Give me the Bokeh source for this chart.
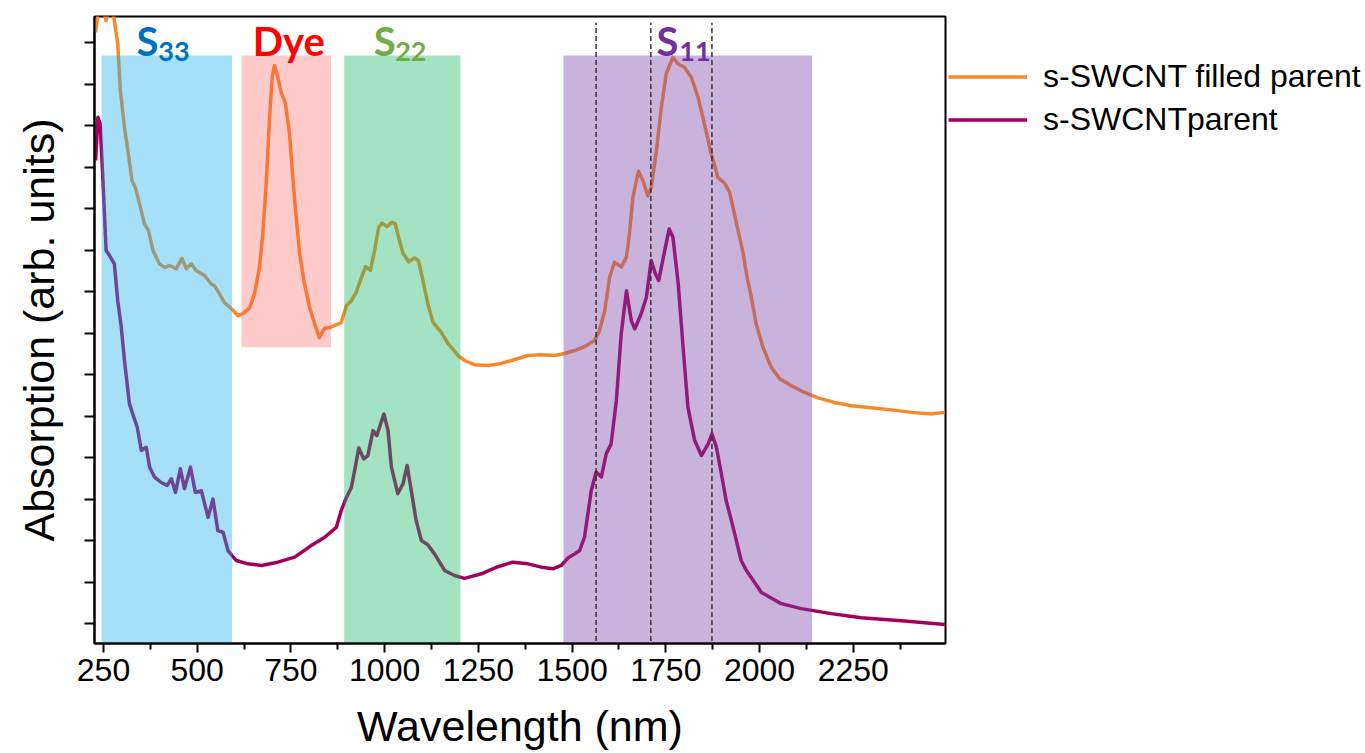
from bokeh.plotting import figure
from bokeh.models import FixedTicker, Legend, LegendItem, Range1d
from bokeh.embed import file_html
from bokeh.resources import INLINE
from bokeh.core.properties import value

# ---- data (wavelength in nm, absorption in arb. units) ----
filled_nm = [229, 239, 257, 270, 279, 288, 295, 306, 315, 326,
             335, 346, 359, 370, 382, 399, 413, 426, 444, 459,
             471, 484, 497, 519, 537, 546, 559, 573, 591, 609,
             622, 640, 653, 666, 675, 684, 693, 700, 706, 715,
             724, 735, 746, 760, 773, 786, 800, 813, 826, 840,
             853, 866, 884, 898, 911, 924, 938, 949, 962, 973,
             984, 993, 1006, 1019, 1028, 1037, 1049, 1064, 1080, 1090,
             1102, 1115, 1129, 1151, 1169, 1196, 1213, 1240, 1276, 1311,
             1338, 1382, 1418, 1453, 1480, 1507, 1538, 1560, 1573, 1587,
             1600, 1613, 1631, 1645, 1653, 1662, 1677, 1689, 1702, 1711,
             1725, 1738, 1751, 1769, 1782, 1800, 1818, 1836, 1853, 1871,
             1889, 1907, 1920, 1938, 1956, 1965, 1978, 1991, 2009, 2031,
             2054, 2085, 2120, 2156, 2200, 2245, 2298, 2351, 2405, 2458, 2494]
filled_abs = [1.525, 1.60, 1.553, 1.60, 1.553, 1.498, 1.384, 1.295, 1.240, 1.167,
              1.151, 1.112, 1.064, 1.047, 0.999, 0.967, 0.958, 0.963, 0.955, 0.980,
              0.955, 0.967, 0.951, 0.939, 0.919, 0.914, 0.895, 0.873, 0.859, 0.842,
              0.847, 0.861, 0.895, 0.958, 1.040, 1.160, 1.319, 1.416, 1.445, 1.416,
              1.380, 1.355, 1.281, 1.119, 0.992, 0.919, 0.861, 0.823, 0.789, 0.812,
              0.813, 0.818, 0.825, 0.866, 0.878, 0.898, 0.934, 0.960, 0.951, 0.999,
              1.055, 1.065, 1.057, 1.067, 1.064, 1.031, 0.992, 0.972, 0.981, 0.975,
              0.927, 0.871, 0.826, 0.802, 0.775, 0.746, 0.734, 0.724, 0.722, 0.727,
              0.734, 0.746, 0.748, 0.746, 0.751, 0.758, 0.770, 0.782, 0.806, 0.854,
              0.934, 0.971, 0.959, 0.983, 1.040, 1.127, 1.190, 1.167, 1.131, 1.151,
              1.240, 1.344, 1.425, 1.465, 1.449, 1.440, 1.416, 1.368, 1.304, 1.232,
              1.175, 1.161, 1.140, 1.066, 0.994, 0.943, 0.886, 0.822, 0.766, 0.718,
              0.690, 0.673, 0.657, 0.644, 0.633, 0.625, 0.620, 0.615, 0.609, 0.605, 0.609]

parent_nm = [229, 235, 241, 246, 251, 257, 266, 279, 288, 297,
             306, 319, 331, 340, 351, 364, 373, 386, 404, 420,
             431, 442, 455, 466, 482, 495, 511, 529, 542, 555,
             569, 582, 604, 635, 671, 715, 760, 804, 840, 871,
             884, 898, 911, 920, 931, 944, 955, 969, 979, 998,
             1009, 1018, 1035, 1049, 1060, 1071, 1084, 1098, 1115, 1133,
             1160, 1186, 1213, 1258, 1302, 1342, 1382, 1418, 1449, 1471,
             1489, 1507, 1520, 1533, 1542, 1551, 1564, 1578, 1591, 1604,
             1618, 1631, 1645, 1658, 1667, 1684, 1698, 1711, 1722, 1731,
             1747, 1759, 1769, 1783, 1796, 1809, 1827, 1845, 1863, 1873,
             1885, 1903, 1911, 1925, 1951, 1965, 2005, 2058, 2111, 2191,
             2271, 2378, 2495]
parent_abs = [1.216, 1.320, 1.305, 1.216, 1.119, 0.999, 0.987, 0.967, 0.878, 0.818,
              0.734, 0.630, 0.597, 0.573, 0.517, 0.525, 0.477, 0.453, 0.440, 0.433,
              0.449, 0.416, 0.473, 0.425, 0.477, 0.416, 0.420, 0.356, 0.400, 0.324,
              0.320, 0.276, 0.252, 0.244, 0.240, 0.248, 0.260, 0.288, 0.308, 0.332,
              0.372, 0.404, 0.428, 0.469, 0.523, 0.497, 0.505, 0.565, 0.553, 0.605,
              0.565, 0.477, 0.413, 0.437, 0.481, 0.420, 0.348, 0.300, 0.290, 0.268,
              0.228, 0.216, 0.209, 0.220, 0.237, 0.248, 0.244, 0.236, 0.232, 0.240,
              0.258, 0.268, 0.276, 0.308, 0.364, 0.420, 0.465, 0.453, 0.509, 0.533,
              0.637, 0.798, 0.902, 0.830, 0.810, 0.846, 0.886, 0.975, 0.943, 0.927,
              0.999, 1.051, 1.031, 0.919, 0.766, 0.621, 0.541, 0.505, 0.533, 0.557,
              0.525, 0.437, 0.396, 0.348, 0.252, 0.228, 0.175, 0.148, 0.136, 0.124,
              0.114, 0.107, 0.098]

series_labels = ["s-SWCNT filled parent", "s-SWCNTparent"]
series_colors = ["#F7892B", "#A2005C"]

# shaded transition bands
band_start = [245, 618, 892, 1477]
band_end = [593, 857, 1202, 2140]
band_top = [1.469, 1.469, 1.469, 1.469]
band_bottom = [0.0, 0.766, 0.0, 0.0]
band_colors = ["#1EB1ED", "#FF5050", "#19B666", "#7841AA"]
band_alpha = [0.4, 0.3, 0.4, 0.4]

# band labels
label_main = ["S", "Dye", "S", "S"]
label_x = [338, 648, 971, 1725]
label_sub = ["33", "", "22", "11"]
label_sub_x = [396, 0, 1028, 1786]
label_colors = ["#0070C0", "#FF0000", "#70AD47", "#7030A0"]
label_y = 1.503
label_sub_y = 1.478

# reference dashed lines
dash_nm = [1564, 1710, 1873]
dash_top = 1.548

x_ticks = [250, 500, 750, 1000, 1250, 1500, 1750, 2000, 2250]
x_minor = [375, 625, 875, 1125, 1375, 1625, 1875, 2125, 2375]
y_ticks = [0.1, 0.2, 0.3, 0.4, 0.5, 0.6, 0.7, 0.8, 0.9, 1.0, 1.1, 1.2, 1.3, 1.4, 1.5]

p = figure(frame_width=851, frame_height=627, output_backend="svg", toolbar_location=None,
           x_range=Range1d(226, 2496), y_range=Range1d(0.052, 1.563),
           min_border_left=94, min_border_right=0, min_border_top=16, min_border_bottom=110)
p.background_fill_color = "white"
p.border_fill_color = "white"
p.outline_line_color = "black"
p.outline_line_width = 2
p.grid.visible = False

r1 = p.line(filled_nm, filled_abs, line_color=series_colors[0], line_width=3.5, line_join="round")
r2 = p.line(parent_nm, parent_abs, line_color=series_colors[1], line_width=3.5, line_join="round")

p.quad(left=band_start, right=band_end, top=band_top, bottom=band_bottom,
       fill_color=band_colors, fill_alpha=band_alpha, line_color=None)

p.segment(x0=dash_nm, x1=dash_nm, y0=[0.0] * len(dash_nm), y1=[dash_top] * len(dash_nm),
          line_color="#333333", line_width=1.5, line_dash="5 3")

p.text(x=label_x, y=[label_y] * 4, text=label_main, text_color=label_colors,
       text_font=value("Lato"), text_font_style="bold", text_font_size="40px",
       text_baseline="alphabetic", text_align="left")
sub_idx = [i for i in range(4) if label_sub[i]]
p.text(x=[label_sub_x[i] for i in sub_idx], y=[label_sub_y] * len(sub_idx),
       text=[label_sub[i] for i in sub_idx], text_color=[label_colors[i] for i in sub_idx],
       text_font=value("Lato"), text_font_style="bold", text_font_size="27px",
       text_baseline="alphabetic", text_align="left")

# axes
p.xaxis.ticker = FixedTicker(ticks=x_ticks, minor_ticks=x_minor)
p.yaxis.ticker = FixedTicker(ticks=y_ticks, minor_ticks=[])
for ax in (p.xaxis[0], p.yaxis[0]):
    ax.axis_line_width = 2
    ax.axis_line_color = "black"
    ax.major_tick_line_width = 2
    ax.minor_tick_line_width = 2
    ax.major_tick_in = 0
    ax.minor_tick_in = 0
    ax.axis_label_text_font = "Liberation Sans"
    ax.axis_label_text_font_style = "normal"
    ax.axis_label_text_font_size = "43px"
    ax.axis_label_text_color = "black"
    ax.major_label_text_font = "Liberation Sans"
    ax.major_label_text_color = "black"

p.xaxis.axis_label = "Wavelength (nm)"
p.xaxis.major_tick_out = 9
p.xaxis.minor_tick_out = 6
p.xaxis.major_label_text_font_size = "32px"
p.xaxis.major_label_standoff = 6
p.xaxis.axis_label_standoff = 18
p.xaxis.axis_label_text_line_height = 0.8

p.yaxis.axis_label = "Absorption (arb. units)"
p.yaxis.major_tick_out = 10
p.yaxis.minor_tick_out = 0
p.yaxis.major_label_overrides = {t: "" for t in y_ticks}
p.yaxis.major_label_text_font_size = "12px"
p.yaxis.major_label_standoff = 0
p.yaxis.axis_label_standoff = 22

legend = Legend(items=[LegendItem(label=series_labels[0], renderers=[r1]),
                       LegendItem(label=series_labels[1], renderers=[r2])],
                location=(3, 505), orientation="vertical")
legend.label_text_font = "Liberation Sans"
legend.label_text_font_size = "32px"
legend.label_text_color = "black"
legend.glyph_width = 79
legend.glyph_height = 35
legend.label_height = 35
legend.label_standoff = 16
legend.spacing = 6
legend.padding = 0
legend.margin = 0
legend.border_line_color = None
legend.background_fill_alpha = 0
p.add_layout(legend, "right")

open("out.html", "w").write(file_html(p, INLINE))
